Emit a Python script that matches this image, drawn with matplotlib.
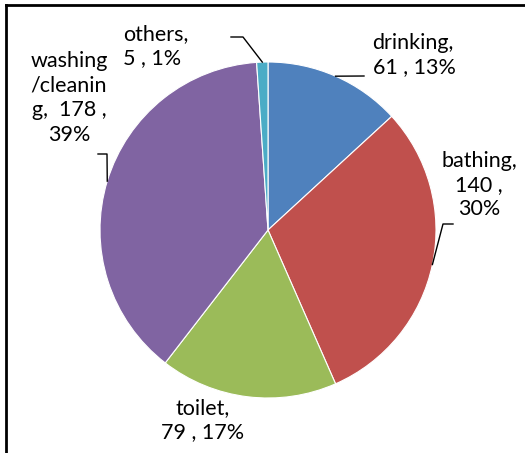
import numpy as np
import matplotlib
matplotlib.use("Agg")
import matplotlib.pyplot as plt
from matplotlib.lines import Line2D

categories = ["drinking", "bathing", "toilet", "washing\n/cleanin\ng", "others"]
values = [61, 140, 79, 178, 5]
pct_labels = ["13%", "30%", "17%", "39%", "1%"]
colors = ["#4F81BD", "#C0504D", "#9BBB59", "#8064A2", "#4BACC6"]

plt.rcParams["font.family"] = ["Lato", "DejaVu Sans"]

W, H = 525, 453
cx, cy, R = 268, 230, 168  # pie centre / radius in pixels

fig = plt.figure(figsize=(W / 100, H / 100), dpi=100)
ax = fig.add_axes([0, 0, 1, 1])

wedges, _ = ax.pie(values, colors=colors, startangle=90, counterclock=False,
                   radius=1.0, wedgeprops=dict(linewidth=0.8, edgecolor="white"))
ax.set_xlim(-cx / R, (W - cx) / R)
ax.set_ylim((cy - H) / R, cy / R)
ax.set_aspect("auto")
ax.axis("off")

def px(x, y):
    return (x - cx) / R, (cy - y) / R

# label text, position (pixel centre), alignment, leader elbow points (pixels)
texts = [
    ("drinking,\n61 , 13%", (414, 55), "left", [(364, 76)]),
    ("bathing,\n140 ,\n30%", (479, 185), "center", [(443, 224), (453, 224)]),
    ("toilet,\n79 , 17%", (203, 420), "center", None),
    ("washing\n/cleanin\ng,  178 ,\n39%", (69, 98), "center", [(107, 154), (98, 154)]),
    ("others,\n5 , 1%", (156, 46), "left", [(243, 37), (231, 37)]),
]

for w, (txt, pos, ha, elbow) in zip(wedges, texts):
    tx, ty = px(*pos)
    ax.text(tx, ty, txt, ha="center", va="center", multialignment=ha,
            fontsize=15.5, linespacing=1.28, color="black")
    if elbow:
        ang = np.deg2rad((w.theta1 + w.theta2) / 2)
        pts = [(np.cos(ang), np.sin(ang))] + [px(*p) for p in elbow]
        xs, ys = zip(*pts)
        ax.plot(xs, ys, color="black", lw=1)

# chart frame: only top and left edges are visible in the crop
fig.add_artist(Line2D([6 / W, 1], [1 - 5 / H, 1 - 5 / H], transform=fig.transFigure,
                      color="black", lw=2))
fig.add_artist(Line2D([6 / W, 6 / W], [0, 1 - 5 / H], transform=fig.transFigure,
                      color="black", lw=2))

fig.savefig("out.png", dpi=100)
